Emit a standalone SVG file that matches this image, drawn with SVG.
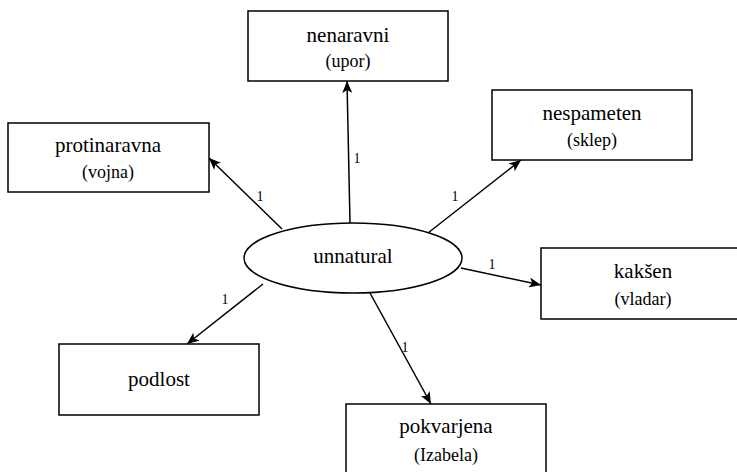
<svg xmlns="http://www.w3.org/2000/svg" width="737" height="472" viewBox="0 0 737 472">
<defs>
<style>
.box{fill:#fff;stroke:#000;stroke-width:1.5}
.t{font-family:"Liberation Serif","DejaVu Serif",serif;fill:#000;text-anchor:middle}
.m{font-size:21px}
.s{font-size:18px}
.l{font-size:14px}
.c{stroke:#000;stroke-width:1.5;fill:none;marker-end:url(#ah)}
</style>
<marker id="ah" viewBox="0 0 12 10" refX="12" refY="5" markerWidth="12" markerHeight="10" markerUnits="userSpaceOnUse" orient="auto">
<path d="M0,0 L12,5 L0,10 L3,5 z" fill="#000"/>
</marker>
</defs>
<rect width="737" height="472" fill="#fff"/>
<g id="connectors">
<line class="c" x1="350" y1="223" x2="347" y2="81"/>
<line class="c" x1="282" y1="229" x2="209" y2="158"/>
<line class="c" x1="428" y1="233" x2="521" y2="160"/>
<line class="c" x1="461" y1="268" x2="541" y2="285"/>
<line class="c" x1="263" y1="284" x2="187" y2="344"/>
<line class="c" x1="370" y1="293" x2="431" y2="404"/>
<text class="t l" x="357" y="163">1</text>
<text class="t l" x="260" y="201">1</text>
<text class="t l" x="455" y="201">1</text>
<text class="t l" x="492" y="269">1</text>
<text class="t l" x="225" y="304">1</text>
<text class="t l" x="405" y="352">1</text>
</g>
<g id="unnatural">
<ellipse class="box" cx="353" cy="258" rx="109" ry="35"/>
<text class="t m" x="353" y="263">unnatural</text>
</g>
<g id="nenaravni">
<rect class="box" x="248" y="11" width="200" height="70"/>
<text class="t m" x="348" y="42">nenaravni</text>
<text class="t s" x="348" y="67">(upor)</text>
</g>
<g id="protinaravna">
<rect class="box" x="8" y="123" width="201" height="69"/>
<text class="t m" x="108" y="152">protinaravna</text>
<text class="t s" x="108" y="178">(vojna)</text>
</g>
<g id="nespameten">
<rect class="box" x="492" y="90" width="200" height="70"/>
<text class="t m" x="592" y="120">nespameten</text>
<text class="t s" x="592" y="146">(sklep)</text>
</g>
<g id="kaksen">
<rect class="box" x="541" y="248" width="200" height="71"/>
<text class="t m" x="643" y="278">kakšen</text>
<text class="t s" x="643" y="305">(vladar)</text>
</g>
<g id="podlost">
<rect class="box" x="59" y="344" width="200" height="71"/>
<text class="t m" x="159" y="386">podlost</text>
</g>
<g id="pokvarjena">
<rect class="box" x="346" y="404" width="200" height="70"/>
<text class="t m" x="446" y="433">pokvarjena</text>
<text class="t s" x="446" y="461">(Izabela)</text>
</g>
</svg>
